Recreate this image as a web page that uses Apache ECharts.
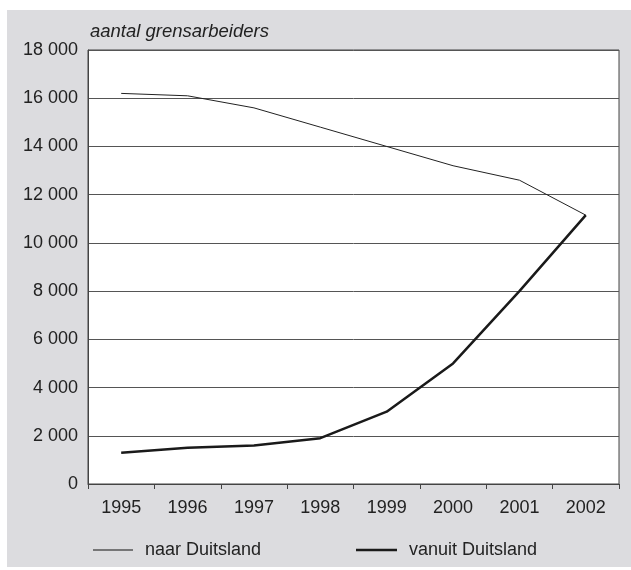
<!DOCTYPE html>
<html>
<head>
<meta charset="utf-8">
<script src="https://cdn.jsdelivr.net/npm/echarts@6/dist/echarts.min.js"></script>
<style>
    html, body { margin: 0; padding: 0; background: #fff; }
    #chart { width: 631px; height: 570px; }
</style>
</head>
<body>
<div id="chart"></div>
<script>
    // jaren en aantallen grensarbeiders
    const years = ['1995', '1996', '1997', '1998', '1999', '2000', '2001', '2002']
    const naarDuitsland = [16200, 16100, 15600, 14800, 14000, 13200, 12600, 11150]
    const vanuitDuitsland = [1300, 1500, 1600, 1900, 3000, 5000, 8000, 11150]
    const yTicks = [0, 2000, 4000, 6000, 8000, 10000, 12000, 14000, 16000, 18000]

    const fontFamily = '"Liberation Sans", Arial, sans-serif'
    const textColor = '#222'

    const chart = echarts.init(document.getElementById('chart'))

    const legendText = { fontSize: 18, color: textColor, fontFamily, padding: [0, 0, 0, 7] }

    const option = {
        backgroundColor: '#fff',
        animation: false,
        textStyle: { fontFamily, color: textColor },
        graphic: [
            {
                type: 'rect',
                z: -100,
                shape: { x: 7, y: 10, width: 624, height: 557 },
                style: { fill: '#dcdcdf' }
            }
        ],
        grid: {
            left: 88,
            right: 12,
            top: 50,
            bottom: 86,
            show: true,
            backgroundColor: '#fff',
            borderColor: '#444',
            borderWidth: 1
        },
        legend: [
            {
                left: 88,
                top: 536,
                icon: 'rect',
                itemWidth: 40,
                itemHeight: 1.2,
                itemStyle: { color: '#111' },
                textStyle: legendText,
                data: ['naar Duitsland']
            },
            {
                left: 351,
                top: 536,
                icon: 'rect',
                itemWidth: 41,
                itemHeight: 2.5,
                textStyle: legendText,
                data: ['vanuit Duitsland']
            }
        ],
        xAxis: {
            type: 'category',
            data: years,
            boundaryGap: true,
            axisLine: { lineStyle: { color: '#444', width: 1 } },
            axisTick: { show: true, length: 5, lineStyle: { color: '#444' } },
            axisLabel: { fontSize: 18, color: textColor, margin: 15, fontFamily }
        },
        yAxis: {
            type: 'value',
            min: yTicks[0],
            max: yTicks[yTicks.length - 1],
            interval: 2000,
            name: 'aantal grensarbeiders',
            nameLocation: 'end',
            nameGap: 9,
            nameTextStyle: {
                fontSize: 18.5,
                fontStyle: 'italic',
                color: textColor,
                fontFamily,
                align: 'left',
                verticalAlign: 'bottom',
                padding: [0, 0, 0, 2]
            },
            axisLine: { show: true, lineStyle: { color: '#444' } },
            axisTick: { show: false },
            axisLabel: {
                fontSize: 18,
                color: textColor,
                margin: 10,
                fontFamily,
                formatter: v => String(v).replace(/\B(?=(\d{3})+(?!\d))/g, ' ')
            },
            splitLine: { show: true, lineStyle: { color: '#555', width: 1 } }
        },
        series: [
            {
                name: 'naar Duitsland',
                type: 'line',
                data: naarDuitsland,
                symbol: 'none',
                silent: true,
                lineStyle: { color: '#222', width: 1 },
                itemStyle: { color: '#222' }
            },
            {
                name: 'vanuit Duitsland',
                type: 'line',
                data: vanuitDuitsland,
                symbol: 'none',
                silent: true,
                lineStyle: { color: '#1a1a1a', width: 2.5 },
                itemStyle: { color: '#1a1a1a' }
            }
        ]
    }

    chart.setOption(option)
</script>
</body>
</html>
